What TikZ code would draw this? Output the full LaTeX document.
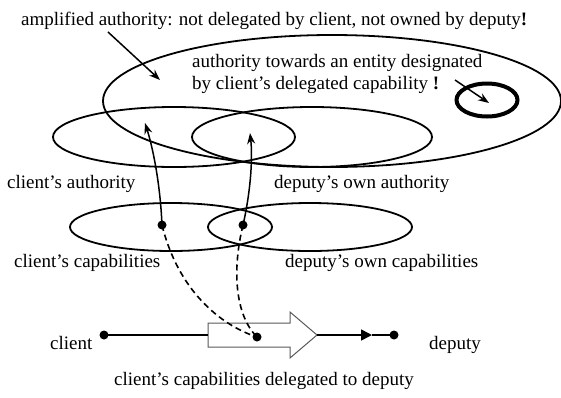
\documentclass[tikz,border=0pt]{standalone}
\usepackage{fontspec}
\setmainfont{Liberation Serif}
\newfontfamily\tnr{Liberation Serif}
\usetikzlibrary{shapes.geometric,arrows.meta}
\begin{document}
\begin{tikzpicture}[x=1pt,y=-1pt,
  ell/.style={draw,ellipse,inner sep=0pt,line width=1.8pt},
  lbl/.style={anchor=base west,inner sep=0pt,font=\tnr\fontsize{19}{22}\selectfont},
  dotc/.style={circle,fill,inner sep=0pt,minimum size=9pt},
  upar/.style={line width=1.5pt,-{Stealth[length=11pt,width=8pt]}},
  dsh/.style={line width=1.6pt,dash pattern=on 6pt off 4pt},
  conn/.style={line width=1.6pt}]
\useasboundingbox (0,0) rectangle (561,397);
% ellipses
\node[ell,minimum width=458pt,minimum height=132pt] (big) at (332,101) {};
\node[ell,minimum width=242pt,minimum height=60pt] (cauth) at (174,137) {};
\node[ell,minimum width=240pt,minimum height=60pt] (dauth) at (312,137) {};
\node[ell,minimum width=202pt,minimum height=48pt] (ccap) at (171,227) {};
\node[ell,minimum width=204pt,minimum height=48pt] (dcap) at (310,227) {};
\node[draw,ellipse,inner sep=0pt,line width=4pt,minimum width=61pt,minimum height=33pt] (ent) at (487,100) {};
% texts
\node[lbl] (title) at (21,25) {amplified authority: not delegated by client, not owned by deputy\textbf{!}};
\node[lbl] (t1) at (192,67) {authority towards an entity designated};
\node[lbl] (t2) at (192,89) {by client’s delegated capability \textbf{!}};
\node[lbl] (la) at (7,188) {client’s authority};
\node[lbl] (lda) at (274,188) {deputy’s own authority};
\node[lbl] (lc) at (14,267) {client’s capabilities};
\node[lbl] (ldc) at (285,267) {deputy’s own capabilities};
\node[lbl] (lcl) at (50,349) {client};
\node[lbl] (ldp) at (429,349) {deputy};
\node[lbl] (lbot) at (114,385) {client’s capabilities delegated to deputy};
% pointer arrows
\coordinate (a1s) at (108,32);
\coordinate (a1e) at (160,80);
\draw[upar] (a1s) -- (a1e);
\coordinate (a2s) at (455,80);
\coordinate (a2e) at (489,103);
\draw[upar] (a2s) -- (a2e);
% dots
\node[dotc] (d1) at (162,225) {};
\node[dotc] (d2) at (243,225) {};
\node[dotc] (dc) at (104,335) {};
\node[dotc] (dd) at (394,335) {};
\coordinate (dm) at (257,337);
% up arrows
\coordinate (u1) at (145,123);
\coordinate (u2) at (250,133);
\draw[upar] (d1.center) .. controls (160,180) and (152,145) .. (u1);
\draw[upar] (d2.center) .. controls (250,195) and (253,160) .. (u2);
% hollow arrow
\coordinate (bl) at (208,335);
\coordinate (tip) at (317,335);
\coordinate (mid) at (372,335);
\draw[gray!70!black,line width=1pt,fill=white]
  (208,323) -- (290,323) -- (290,312) -- (tip) -- (290,358) -- (290,347) -- (208,347) -- cycle;
% dashed curves
\draw[dsh] (d1.center) .. controls (178,290) and (220,325) .. (dm);
\draw[dsh] (d2.center) .. controls (232,270) and (235,315) .. (dm);
\node[dotc] (dmd) at (dm) {};
\draw[conn] (dc.center) -- (bl);
\draw[conn,-{Triangle[length=11pt,width=11pt]}] (tip) -- (mid);
\draw[conn] (mid) -- (dd.center);
\end{tikzpicture}
\end{document}
